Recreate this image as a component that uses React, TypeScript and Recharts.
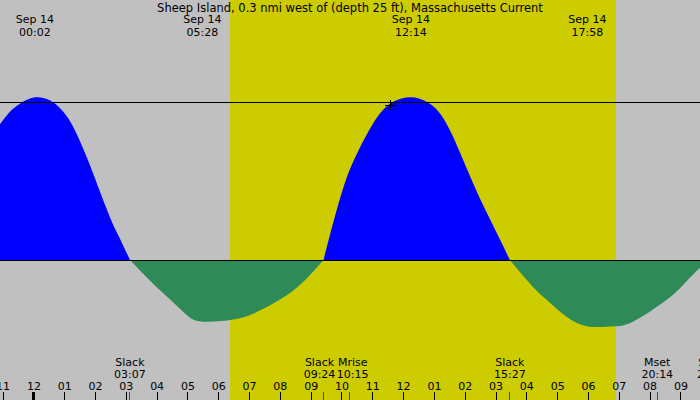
import React from 'react';
import { ComposedChart, Area, XAxis, YAxis, ReferenceArea, ReferenceLine, ReferenceDot } from 'recharts';

const TITLE = 'Sheep Island, 0.3 nmi west of (depth 25 ft), Massachusetts Current';
const DATE_LABEL = 'Sep 14';

// hours from midnight Sep 14 (negative = Sep 13 evening), current in knots (+ flood, - ebb)
const hours = [
  -1.1, -0.77, -0.45, 0.03, 0.53, 0.85, 1.17, 1.5, 1.82, 2.15, 2.47, 2.73, 3.12,
  3.87, 4.42, 4.97, 5.47, 6.37, 7.11, 7.99, 8.73, 9.4,
  10.03, 10.58, 11.13, 11.65, 12.23, 12.76, 13.28, 13.83, 14.38, 14.9, 15.45,
  16.2, 16.75, 17.3, 17.97, 18.7, 19.44, 20.55, 21.06, 21.62, 22.03,
];
const speeds = [
  0.86, 0.94, 0.99, 1.03, 1.01, 0.96, 0.88, 0.75, 0.6, 0.43, 0.27, 0.16, 0,
  -0.15, -0.25, -0.35, -0.39, -0.38, -0.34, -0.25, -0.14, 0,
  0.45, 0.71, 0.9, 1.0, 1.03, 1.0, 0.9, 0.68, 0.43, 0.22, 0,
  -0.17, -0.27, -0.36, -0.42, -0.42, -0.39, -0.25, -0.16, -0.05, 0,
];

// max flood / max ebb times (top labels)
const maxTimes = ['00:02', '05:28', '12:14', '17:58'];

// slack and moon events (bottom labels)
const eventNames = ['Slack', 'Slack', 'Mrise', 'Slack', 'Mset', 'Slack'];
const eventTimes = ['03:07', '09:24', '10:15', '15:27', '20:14', '22:02'];

const sunrise = '06:22';
const sunset = '18:53';

const hourTicks = [-1, 0, 1, 2, 3, 4, 5, 6, 7, 8, 9, 10, 11, 12, 13, 14, 15, 16, 17, 18, 19, 20, 21];
const hourLabels = [
  '11', '12', '01', '02', '03', '04', '05', '06', '07', '08', '09', '10', '11',
  '12', '01', '02', '03', '04', '05', '06', '07', '08', '09',
];

const ktTicks = [0, 1];
const marker = { h: 11.56, kt: 0.98 };

// layout
const W = 700;
const H = 400;
const X_MIN = -1.1;
const X_MAX = 21.62;
const Y_MIN = -0.886;
const Y_MAX = 1.646;
const eventDx = [0, -4, 3, 0, 0, 0];

const toHours = (t: string) => {
  const [hh, mm] = t.split(':').map(Number);
  return hh + mm / 60;
};

// flood and ebb drawn as separate pieces, each meeting the zero line at slack
const data = hours.map((h, i) => ({
  h,
  flood: speeds[i] >= 0 ? speeds[i] : null,
  ebb: speeds[i] <= 0 ? speeds[i] : null,
}));

const txt = { fontFamily: 'DejaVu Sans', fontSize: 11, fill: '#000' };

const HourLabel = ({ viewBox, label, midnight }: any) => (
  <g>
    <text x={viewBox.x} y={390} textAnchor="middle" style={txt}>{label}</text>
    <line
      x1={viewBox.x}
      x2={viewBox.x}
      y1={392}
      y2={400}
      stroke="#000"
      strokeWidth={midnight ? 3 : 1}
      shapeRendering="crispEdges"
    />
  </g>
);

const KtTick = (props: any) => {
  const { y, payload } = props;
  return (
    <text x={2} y={y + 4} textAnchor="start" style={txt}>{`${payload.value} kt`}</text>
  );
};

const TopLabel = ({ viewBox, time }: any) => (
  <g>
    <text x={viewBox.x} y={23} textAnchor="middle" style={txt}>{DATE_LABEL}</text>
    <text x={viewBox.x} y={36} textAnchor="middle" style={txt}>{time}</text>
  </g>
);

const BottomLabel = ({ viewBox, name, time, dx }: any) => (
  <g>
    <text x={viewBox.x + dx} y={366} textAnchor="middle" style={txt}>{name}</text>
    <text x={viewBox.x + dx} y={378} textAnchor="middle" style={txt}>{time}</text>
    <line
      x1={viewBox.x}
      x2={viewBox.x}
      y1={392}
      y2={400}
      stroke="#ff0000"
      strokeWidth={1}
      shapeRendering="crispEdges"
    />
  </g>
);

const Cross = (props: any) => {
  const { cx, cy } = props;
  return (
    <g stroke="#000" strokeWidth={1} shapeRendering="crispEdges">
      <line x1={cx - 5} x2={cx + 5} y1={cy} y2={cy} />
      <line x1={cx} x2={cx} y1={cy - 5} y2={cy + 5} />
    </g>
  );
};

export default function App() {
  return (
    <div style={{ position: 'absolute', left: 0, top: 0, width: W, height: H, background: '#c0c0c0' }}>
      <ComposedChart width={W} height={H} data={data} margin={{ top: 0, right: 0, bottom: 0, left: 0 }}>
        <XAxis dataKey="h" type="number" domain={[X_MIN, X_MAX]} allowDataOverflow hide />
        <YAxis
          type="number"
          domain={[Y_MIN, Y_MAX]}
          allowDataOverflow
          ticks={ktTicks}
          tick={<KtTick />}
          axisLine={false}
          tickLine={false}
          width={0}
        />
        <ReferenceArea
          x1={toHours(sunrise)}
          x2={toHours(sunset)}
          y1={Y_MIN}
          y2={Y_MAX}
          fill="#cccc00"
          fillOpacity={1}
          stroke="none"
        />
        <ReferenceLine y={1} stroke="#000" strokeWidth={1} shapeRendering="crispEdges" />
        <Area
          dataKey="flood"
          type="natural"
          baseValue={0}
          fill="#0000ff"
          fillOpacity={1}
          stroke="none"
          dot={false}
          activeDot={false}
          connectNulls={false}
          isAnimationActive={false}
        />
        <ReferenceLine y={0} stroke="#000" strokeWidth={1} shapeRendering="crispEdges" />
        <Area
          dataKey="ebb"
          type="natural"
          baseValue={0}
          fill="#2e8b57"
          fillOpacity={1}
          stroke="none"
          dot={false}
          activeDot={false}
          connectNulls={false}
          isAnimationActive={false}
        />
        {hourTicks.map((h, i) => (
          <ReferenceLine
            key={`hr-${h}`}
            x={h}
            stroke="none"
            ifOverflow="visible"
            label={(p: any) => <HourLabel {...p} label={hourLabels[i]} midnight={h === 0} />}
          />
        ))}
        {maxTimes.map((t) => (
          <ReferenceLine
            key={`max-${t}`}
            x={toHours(t)}
            stroke="none"
            ifOverflow="visible"
            label={(p: any) => <TopLabel {...p} time={t} />}
          />
        ))}
        {eventTimes.map((t, i) => (
          <ReferenceLine
            key={`ev-${t}`}
            x={toHours(t)}
            stroke="none"
            ifOverflow="visible"
            label={(p: any) => <BottomLabel {...p} name={eventNames[i]} time={t} dx={eventDx[i]} />}
          />
        ))}
        <ReferenceDot x={marker.h} y={marker.kt} r={5} shape={<Cross />} ifOverflow="visible" />
      </ComposedChart>
      <svg width={W} height={H} style={{ position: 'absolute', left: 0, top: 0, pointerEvents: 'none' }}>
        <text x={350} y={12} textAnchor="middle" style={{ ...txt, fontSize: 11.5 }}>{TITLE}</text>
      </svg>
    </div>
  );
}
